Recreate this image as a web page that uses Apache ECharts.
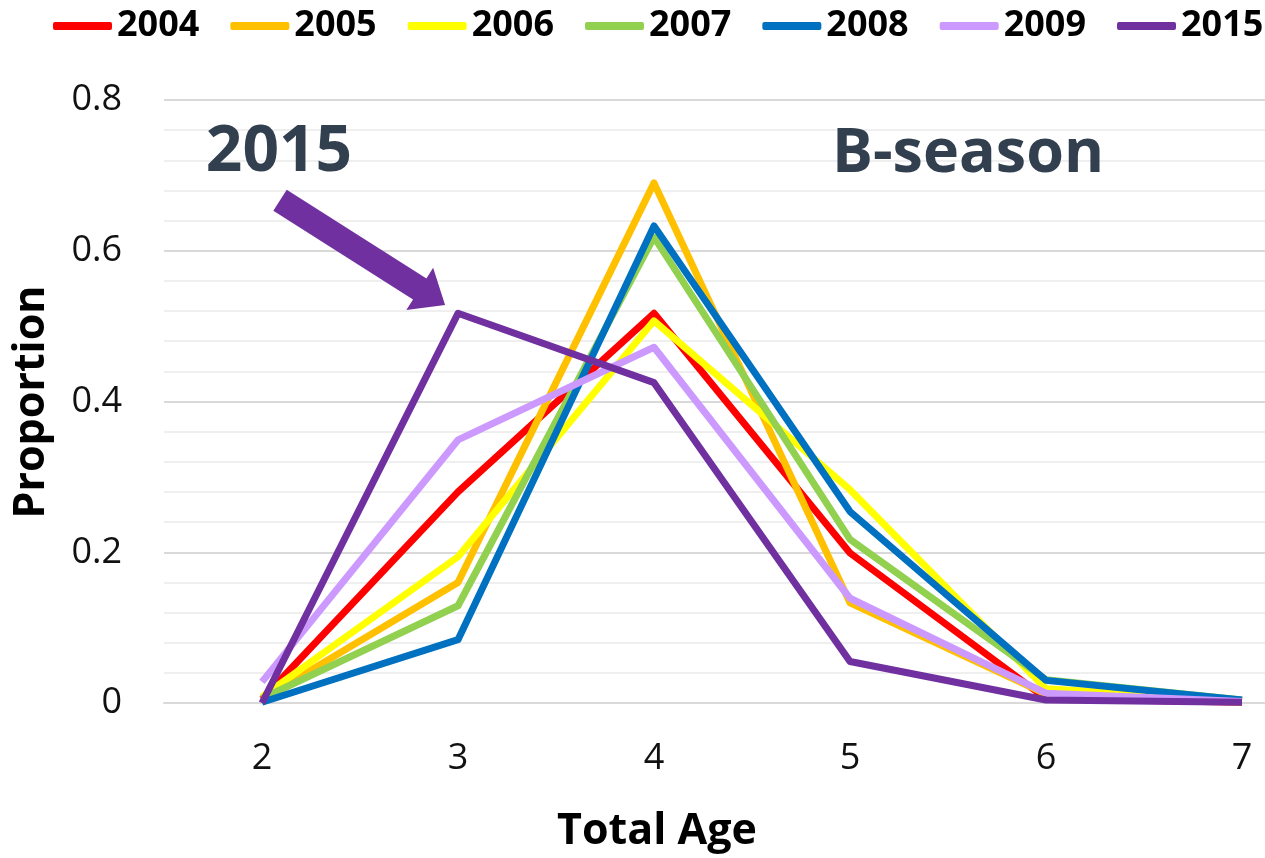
<!DOCTYPE html>
<html>
<head>
<meta charset="utf-8">
<script src="https://cdn.jsdelivr.net/npm/echarts@6/dist/echarts.min.js"></script>
<style>
html,body{margin:0;padding:0;background:#fff;}
#chart{width:1265px;height:858px;}
</style>
</head>
<body>
<div id="chart"></div>
<script>
const categories = ['2', '3', '4', '5', '6', '7'];
const seriesNames = ['2004', '2005', '2006', '2007', '2008', '2009', '2015'];
const s2004 = [0.005, 0.280, 0.517, 0.199, 0.006, 0.001];
const s2005 = [0.005, 0.160, 0.690, 0.133, 0.012, 0.001];
const s2006 = [0.008, 0.194, 0.507, 0.283, 0.019, 0.004];
const s2007 = [0.006, 0.129, 0.618, 0.217, 0.031, 0.004];
const s2008 = [0.001, 0.084, 0.633, 0.254, 0.030, 0.004];
const s2009 = [0.028, 0.349, 0.472, 0.139, 0.013, 0.002];
const s2015 = [0.000, 0.517, 0.425, 0.055, 0.004, 0.001];
const seriesData = [s2004, s2005, s2006, s2007, s2008, s2009, s2015];
const colors = ['#FF0000', '#FFC000', '#FFFF00', '#92D050', '#0070C0', '#CC99FF', '#7030A0'];
const yTicks = ['0', '0.2', '0.4', '0.6', '0.8'];

const FONT = '"Open Sans", "DejaVu Sans", sans-serif';
const chart = echarts.init(document.getElementById('chart'), null, {renderer: 'canvas'});

const option = {
  animation: false,
  backgroundColor: '#ffffff',
  color: colors,
  legend: {
    left: 53,
    top: 8,
    width: 1260,
    padding: 0,
    icon: 'roundRect',
    itemWidth: 59,
    itemHeight: 8,
    itemGap: 31,
    textStyle: {fontFamily: FONT, fontSize: 36, fontWeight: 'bold', color: '#000'},
    data: seriesNames
  },
  grid: {left: 164, top: 100, width: 1176, height: 603, containLabel: false, outerBoundsMode: 'none'},
  xAxis: {
    type: 'category',
    data: categories,
    boundaryGap: true,
    axisLine: {show: true, lineStyle: {color: '#d9d9d9', width: 2}},
    axisTick: {show: false},
    axisLabel: {fontFamily: FONT, fontSize: 36, color: '#111', margin: 38}
  },
  yAxis: {
    type: 'value',
    min: 0,
    max: 0.8,
    interval: 0.2,
    axisLine: {show: false},
    axisTick: {show: false},
    axisLabel: {
      fontFamily: FONT, fontSize: 36, color: '#111', margin: 42,
      formatter: function (v) { return yTicks[Math.round(v / 0.2)]; }
    },
    splitLine: {show: true, lineStyle: {color: '#d9d9d9', width: 2}},
    minorTick: {show: false, splitNumber: 5},
    minorSplitLine: {show: true, lineStyle: {color: '#efefef', width: 2}}
  },
  series: seriesNames.map(function (name, i) {
    return {
      name: name,
      type: 'line',
      data: seriesData[i],
      symbol: 'none',
      lineStyle: {width: 7, color: colors[i], join: 'round'},
      itemStyle: {color: colors[i]},
      z: 2 + i
    };
  })
};
chart.setOption(option);

// annotation arrow positioned in data space (fractional category position interpolated)
function toPx(catPos, val) {
  const i0 = Math.floor(catPos);
  const f = catPos - i0;
  const a = chart.convertToPixel({gridIndex: 0}, [i0, val]);
  const b = chart.convertToPixel({gridIndex: 0}, [i0 + 1, val]);
  return [a[0] + (b[0] - a[0]) * f, a[1]];
}
const tail = toPx(0.092, 0.667);
const tip = toPx(0.934, 0.528);
const dx = tip[0] - tail[0], dy = tip[1] - tail[1];
const len = Math.sqrt(dx * dx + dy * dy);
const ux = dx / len, uy = dy / len;
const nx = -uy, ny = ux;
const shaftHalf = 12.5, headHalf = 25, headLen = 30;
const bx = tip[0] - ux * headLen, by = tip[1] - uy * headLen;
const arrowPts = [
  [tail[0] + nx * shaftHalf, tail[1] + ny * shaftHalf],
  [bx + nx * shaftHalf, by + ny * shaftHalf],
  [bx + nx * headHalf, by + ny * headHalf],
  [tip[0], tip[1]],
  [bx - nx * headHalf, by - ny * headHalf],
  [bx - nx * shaftHalf, by - ny * shaftHalf],
  [tail[0] - nx * shaftHalf, tail[1] - ny * shaftHalf]
];

chart.setOption({
  graphic: [
    {type: 'polygon', shape: {points: arrowPts}, style: {fill: '#7030A0'}, z: 20},
    {type: 'text', x: 279, y: 153, style: {text: '2015', font: 'bold 64px ' + FONT, fill: '#323F4F', align: 'center', verticalAlign: 'middle'}, z: 20},
    {type: 'text', x: 968, y: 155, style: {text: 'B-season', font: 'bold 61px ' + FONT, fill: '#323F4F', align: 'center', verticalAlign: 'middle'}, z: 20},
    {type: 'text', x: 657, y: 832, style: {text: 'Total Age', font: 'bold 43px ' + FONT, fill: '#000', align: 'center', verticalAlign: 'middle'}, z: 20},
    {type: 'text', x: 32, y: 402, rotation: Math.PI / 2, style: {text: 'Proportion', font: 'bold 43px ' + FONT, fill: '#000', align: 'center', verticalAlign: 'middle'}, z: 20}
  ]
});
</script>
</body>
</html>
